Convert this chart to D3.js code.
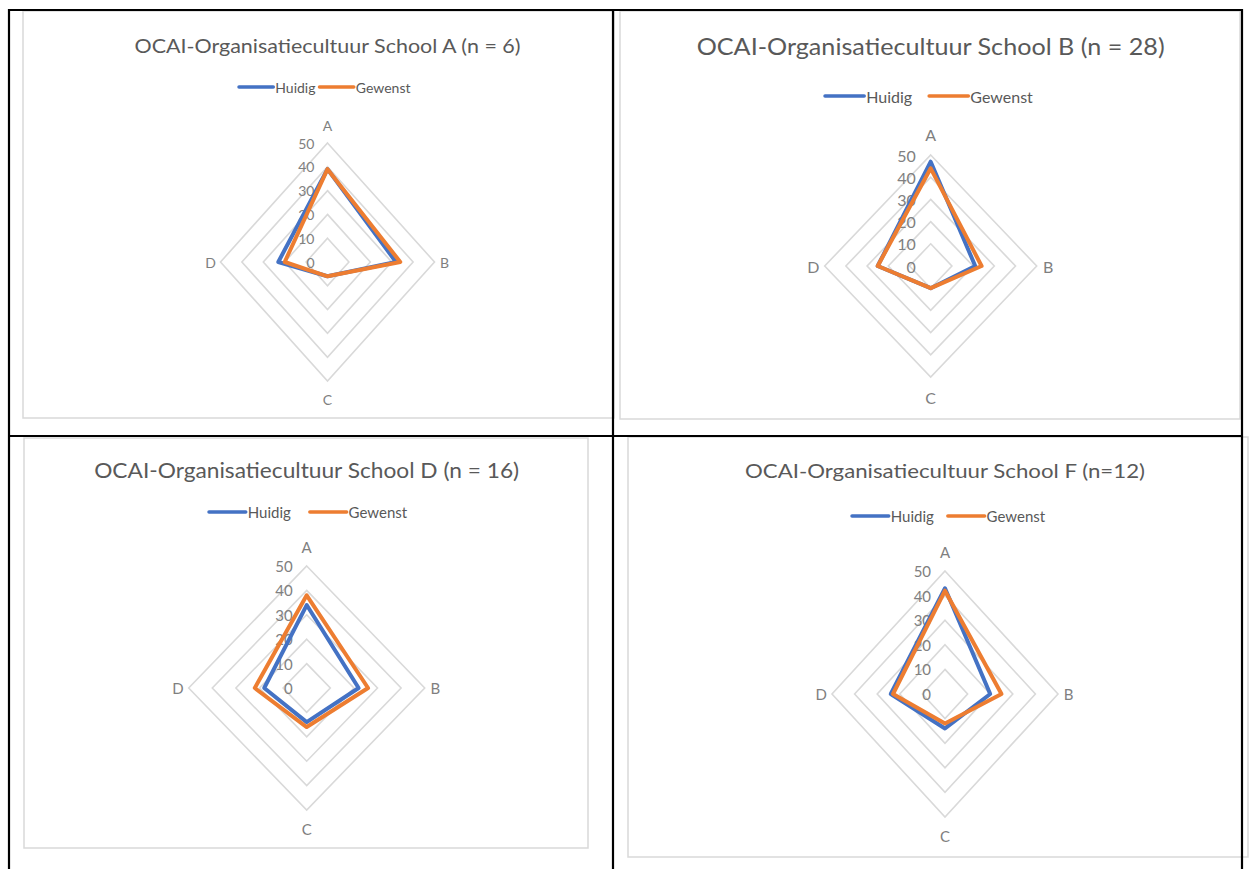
<!DOCTYPE html>
<meta charset="utf-8">
<html>
<head>
<title>OCAI radar</title>
<script src="https://cdn.jsdelivr.net/npm/d3@7"></script>
<style>
  body { margin: 0; background: #fff; }
  text { font-family: Lato, "Liberation Sans", sans-serif; }
</style>
</head>
<body>
<div id="chart"></div>
<script>
/* data */
var categories = ["A", "B", "C", "D"];
var seriesNames = ["Huidig", "Gewenst"];
var ticks = [0, 10, 20, 30, 40, 50];
var titles = [
  "OCAI-Organisatiecultuur School A (n = 6)",
  "OCAI-Organisatiecultuur School B (n = 28)",
  "OCAI-Organisatiecultuur School D (n = 16)",
  "OCAI-Organisatiecultuur School F (n=12)"
];
var huidig = [
  [39, 32, 6, 23],
  [47, 21, 10, 25],
  [34, 22, 14, 18],
  [43, 20, 14, 24]
];
var gewenst = [
  [39, 34, 6, 20],
  [44, 24, 10, 25],
  [38, 26, 16, 22],
  [42, 25, 12, 23]
];

/* layout of the four panels */
var W = 1252, H = 869;
var colors = ["#4472C4", "#ED7D31"];
var panels = [
  {box: [23, 11, 614, 418], cx: 327.5, cy: 262, rx: 107, ry: 119, titleY: 45, titleW: 386, titleFs: 20, legX: 239, legY: 87, legGap: 4, fs: 14},
  {box: [620, 11, 1240, 419], cx: 930.7, cy: 266, rx: 106, ry: 111, titleY: 45, titleW: 468, titleFs: 24, legX: 825, legY: 96, legGap: 17, fs: 16},
  {box: [24, 438, 588, 848], cx: 306.7, cy: 688, rx: 118, ry: 122, titleY: 469, titleW: 425, titleFs: 21, legX: 209, legY: 512, legGap: 19, fs: 15},
  {box: [628, 437, 1248, 857], cx: 945, cy: 694, rx: 113, ry: 123, titleY: 470, titleW: 400, titleFs: 20, legX: 852, legY: 516, legGap: 14, fs: 15}
];

var svg = d3.select("#chart").append("svg")
  .attr("width", W)
  .attr("height", H);

panels.forEach(function(p, i) {
  var g = svg.append("g");

  // chart frame
  g.append("rect")
    .attr("x", p.box[0]).attr("y", p.box[1])
    .attr("width", p.box[2] - p.box[0]).attr("height", p.box[3] - p.box[1])
    .attr("fill", "#fff").attr("stroke", "#d9d9d9").attr("stroke-width", 1.5);

  // title
  g.append("text")
    .attr("x", p.cx).attr("y", p.titleY)
    .attr("text-anchor", "middle").attr("dominant-baseline", "central")
    .attr("font-size", p.titleFs).attr("fill", "#595959")
    .attr("textLength", p.titleW).attr("lengthAdjust", "spacingAndGlyphs")
    .text(titles[i]);

  // scales
  var sx = d3.scaleLinear().domain([-50, 50]).range([p.cx - p.rx, p.cx + p.rx]);
  var sy = d3.scaleLinear().domain([-50, 50]).range([p.cy + p.ry, p.cy - p.ry]);
  var angle = d3.scalePoint().domain(categories.concat(["_"])).range([0, 2 * Math.PI]);
  function pt(cat, v) {
    var a = angle(cat);
    return [sx(v * Math.sin(a)), sy(v * Math.cos(a))];
  }
  var line = d3.line().curve(d3.curveLinearClosed);

  // grid rings
  g.append("g").selectAll("path")
    .data(ticks.filter(function(t) { return t > 0; }))
    .enter().append("path")
    .attr("d", function(t) { return line(categories.map(function(c) { return pt(c, t); })); })
    .attr("fill", "none").attr("stroke", "#d9d9d9").attr("stroke-width", 1.6);

  // tick labels
  g.append("g").selectAll("text")
    .data(ticks)
    .enter().append("text")
    .attr("x", p.cx - 13 * p.fs / 14)
    .attr("y", function(t) { return sy(t); })
    .attr("text-anchor", "end").attr("dominant-baseline", "central")
    .attr("font-size", p.fs).attr("fill", "#808080")
    .text(function(t) { return t; });

  // category labels
  g.append("g").selectAll("text")
    .data(categories)
    .enter().append("text")
    .attr("x", function(c) { var a = angle(c); return sx(0) + Math.sin(a) * (p.rx + 10 * p.fs / 14); })
    .attr("y", function(c) { var a = angle(c); return sy(0) - Math.cos(a) * (p.ry + 18 * p.fs / 14); })
    .attr("text-anchor", "middle").attr("dominant-baseline", "central")
    .attr("font-size", p.fs).attr("fill", "#7f7f7f")
    .text(function(c) { return c; });

  // series
  [huidig[i], gewenst[i]].forEach(function(vals, s) {
    g.append("path")
      .attr("d", line(categories.map(function(c, k) { return pt(c, vals[k]); })))
      .attr("fill", "none").attr("stroke", colors[s])
      .attr("stroke-width", 4).attr("stroke-linejoin", "round");
  });

  // legend
  var leg = g.append("g").attr("transform", "translate(" + p.legX + "," + p.legY + ")");
  var xoff = 0, lineLen = 2.45 * p.fs;
  seriesNames.forEach(function(name, s) {
    leg.append("line")
      .attr("x1", xoff).attr("x2", xoff + lineLen)
      .attr("y1", 0).attr("y2", 0)
      .attr("stroke", colors[s]).attr("stroke-width", 3.5).attr("stroke-linecap", "round");
    var t = leg.append("text")
      .attr("x", xoff + lineLen + 2).attr("y", 0)
      .attr("dominant-baseline", "central")
      .attr("font-size", p.fs).attr("fill", "#595959")
      .text(name);
    xoff += lineLen + 2 + t.node().getComputedTextLength() + p.legGap;
  });
});

/* table borders */
var borders = [
  [8, 10, 1243, 10],
  [9, 9, 9, 869],
  [613, 9, 613, 869],
  [8, 436, 1243, 436],
  [1242, 9, 1242, 869]
];
svg.append("g").selectAll("line")
  .data(borders)
  .enter().append("line")
  .attr("x1", function(d) { return d[0]; }).attr("y1", function(d) { return d[1]; })
  .attr("x2", function(d) { return d[2]; }).attr("y2", function(d) { return d[3]; })
  .attr("stroke", "#000").attr("stroke-width", 2.2);
</script>
</body>
</html>
